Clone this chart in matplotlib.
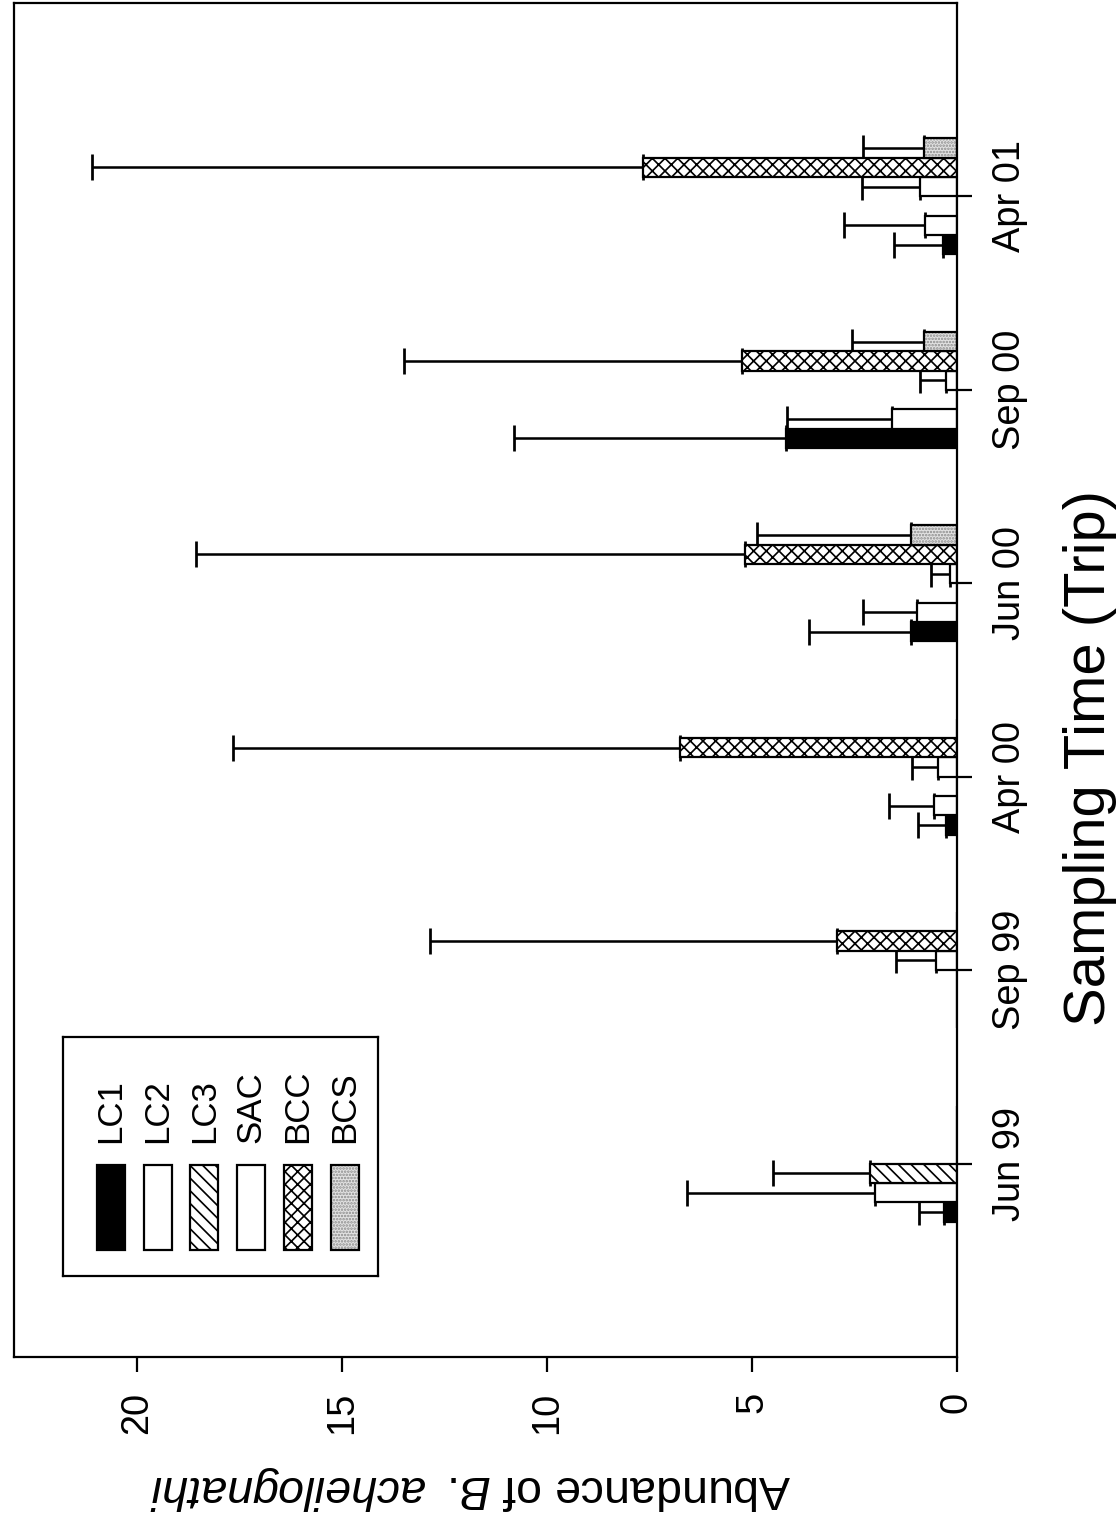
import numpy as np
import matplotlib
matplotlib.use('Agg')
import matplotlib.pyplot as plt
from matplotlib.patches import Rectangle

plt.rcParams['font.family'] = ['Liberation Sans', 'DejaVu Sans']
plt.rcParams['mathtext.fontset'] = 'custom'
plt.rcParams['mathtext.rm'] = 'Liberation Sans'
plt.rcParams['mathtext.it'] = 'Liberation Sans:italic'
plt.rcParams['hatch.linewidth'] = 1.6

trips = ['Jun 99', 'Sep 99', 'Apr 00', 'Jun 00', 'Sep 00', 'Apr 01']
sites = ['LC1', 'LC2', 'LC3', 'SAC', 'BCC', 'BCS']

# mean abundance per trip
lc1 = [0.31, 0.0, 0.26, 1.11, 4.18, 0.33]
lc2 = [1.99, 0.0, 0.56, 0.97, 1.58, 0.77]
lc3 = [2.13, 0.0, 0.0, 0.0, 0.0, 0.0]
sac = [0.0, 0.51, 0.47, 0.17, 0.27, 0.91]
bcc = [0.0, 2.93, 6.76, 5.18, 5.25, 7.66]
bcs = [0.0, 0.0, 0.0, 1.11, 0.80, 0.80]

# standard deviations (upper bars only)
lc1_sd = [0.61, 0.0, 0.68, 2.51, 6.62, 1.20]
lc2_sd = [4.60, 0.0, 1.09, 1.32, 2.57, 1.98]
lc3_sd = [2.35, 0.0, 0.0, 0.0, 0.0, 0.0]
sac_sd = [0.0, 0.99, 0.62, 0.46, 0.64, 1.41]
bcc_sd = [0.0, 9.93, 10.91, 13.38, 8.25, 13.44]
bcs_sd = [0.0, 0.0, 0.0, 3.77, 1.76, 1.49]

means = [lc1, lc2, lc3, sac, bcc, bcs]
sds = [lc1_sd, lc2_sd, lc3_sd, sac_sd, bcc_sd, bcs_sd]

styles = [
    dict(facecolor='black'),
    dict(facecolor='white'),
    dict(facecolor='white', hatch='\\\\'),
    dict(facecolor='white'),
    dict(facecolor='white', hatch='xx'),
    dict(facecolor='#dedede'),
]

DPI = 76
W, H = 1119, 1522
fig = plt.figure(figsize=(W / DPI, H / DPI), dpi=DPI)
ax = fig.add_axes([14 / W, 1 - 1357 / H, (957 - 14) / W, (1357 - 3) / H])

LW = 2.1
bw = 0.1
pos = np.arange(len(trips))
for k, name in enumerate(sites):
    y = pos + (k - 2.5) * bw
    vals = np.array(means[k])
    if name == 'BCS':
        # stippled grey fill, then outline
        ax.barh(y, vals, height=bw, facecolor='#e2e2e2', edgecolor='#8c8c8c',
                hatch='....', linewidth=0, zorder=2)
        ax.barh(y, vals, height=bw, facecolor='none', edgecolor='black',
                linewidth=LW, zorder=3)
    else:
        ax.barh(y, vals, height=bw, edgecolor='black', linewidth=LW,
                zorder=2, **styles[k])
    err = np.array(sds[k])
    m = err > 0
    ax.errorbar(vals[m], y[m], xerr=[np.zeros(m.sum()), err[m]], fmt='none',
                ecolor='black', elinewidth=2.4, capsize=12, capthick=2.6,
                zorder=1)

ax.set_xlim(23, 0)
ax.set_ylim(-1, 6)
ax.set_xticks([0, 5, 10, 15, 20])
ax.yaxis.tick_right()
ax.set_yticks(pos)
ax.set_yticklabels(trips, rotation=90, va='center', ha='left')
ax.tick_params(axis='y', direction='out', length=14, width=LW, pad=19,
               labelsize=36)
ax.tick_params(axis='x', direction='out', length=14, width=LW, pad=19,
               labelsize=36, labelrotation=90)
for s in ax.spines.values():
    s.set_linewidth(LW)

fig.text(1090 / W, 1 - 758 / H, 'Sampling Time (Trip)', rotation=90,
         ha='center', va='center', fontsize=55)
fig.text(470 / W, 1 - 1488 / H, r'Abundance of $\mathit{B.}$ $\mathit{acheilognathi}$',
         rotation=180, ha='center', va='center', fontsize=44)

# legend box drawn by hand, entries run left to right
lax = fig.add_axes([63 / W, 1 - 1276 / H, (378 - 63) / W, (1276 - 1037) / H])
lax.set_xlim(63, 378)
lax.set_ylim(1276, 1037)
lax.set_xticks([])
lax.set_yticks([])
for s in lax.spines.values():
    s.set_linewidth(LW)
for k, name in enumerate(sites):
    x0 = 97 + 46.7 * k
    if name == 'BCS':
        lax.add_patch(Rectangle((x0, 1165), 28, 85, facecolor='#e2e2e2',
                                edgecolor='#8c8c8c', hatch='....', linewidth=0))
        lax.add_patch(Rectangle((x0, 1165), 28, 85, facecolor='none',
                                edgecolor='black', linewidth=LW))
    else:
        lax.add_patch(Rectangle((x0, 1165), 28, 85, edgecolor='black',
                                linewidth=LW, **styles[k]))
    lax.text(x0 + 14, 1143, name, rotation=90, ha='center', va='bottom',
             fontsize=33)

fig.savefig('out.png', dpi=DPI)
